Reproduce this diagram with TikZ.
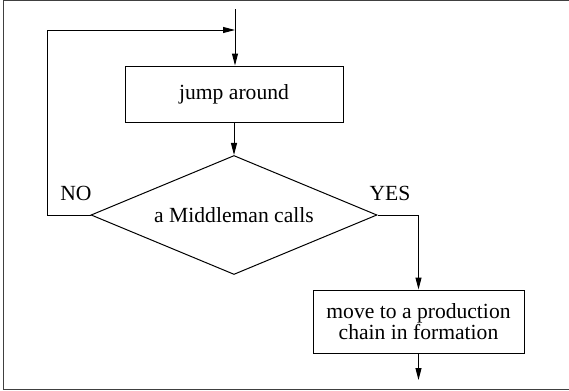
\documentclass[tikz,border=0pt]{standalone}
\usepackage{fontspec}
\setmainfont{LiberationSerif}[Extension=.ttf, UprightFont=*-Regular, BoldFont=*-Bold]
\usepackage{tikz}
\usetikzlibrary{positioning}
\usetikzlibrary{shapes.geometric}
\usetikzlibrary{arrows.meta}
\usetikzlibrary{calc}

\begin{document}
\begin{tikzpicture}[x=0.5pt, y=-0.5pt, line width=0.5pt,
    font=\fontsize{10.8}{10.5}\selectfont]
    % \draw (0,0) grid (569,391);

  \useasboundingbox (0,0) rectangle (569,391);
  \tikzset{flow arrow/.style={-{Triangle[length=6pt,width=3pt]}}}
  \tikzset{node common/.style={draw, anchor=center, inner sep=0pt, align=center}}
  \tikzset{action node/.style={node common, minimum width=109pt, minimum height=28pt}}
  \tikzset{decision node/.style={node common, diamond, aspect=2.4, minimum width=143pt, minimum height=59.5pt}}

  % frame (no right side)
  \draw[black!75] (569,0.5) -- (3.5,0.5) -- (3.5,389.5) -- (569,389.5);

  \coordinate (entry) at (235,9);
  \coordinate (merge) at (235,30);
  \coordinate (exit) at (418.5,380);

  \node[action node] (jump) at (234,94) {jump around};
  \node[decision node] (ask) at (234,215) {a Middleman calls};
  \node[action node, minimum width=105.5pt, minimum height=31.5pt] (move) at (418.5,321.5)
    {move to a production\\chain in formation};
  %
  \node (no) at (76,193) {NO};
  \node (yes) at (390,193) {YES};
  %
  \draw[flow arrow] (entry) -- (merge |- jump.north);
  \draw[flow arrow] (jump) -- (ask);
  \draw[flow arrow] (ask.west) -- ++(-43,0) |- (merge);
  \draw[flow arrow] (ask.east) -| (move.north);
  \draw[flow arrow] (move) -- (exit);
\end{tikzpicture}
\end{document}
